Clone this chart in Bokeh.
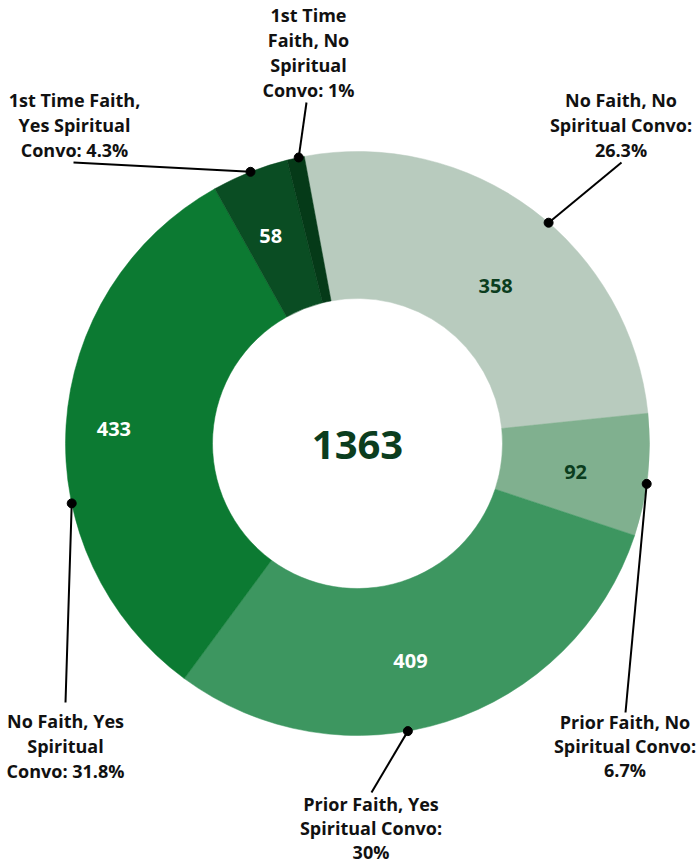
import math
from bokeh.plotting import figure
from bokeh.models import Range1d, ColumnDataSource
from bokeh.core.properties import value
from bokeh.embed import file_html
from bokeh.resources import INLINE

# ---------------- data ----------------
categories = [
    "No Faith, No Spiritual Convo",
    "Prior Faith, No Spiritual Convo",
    "Prior Faith, Yes Spiritual Convo",
    "No Faith, Yes Spiritual Convo",
    "1st Time Faith, Yes Spiritual Convo",
    "1st Time Faith, No Spiritual Convo",
]
counts = [358, 92, 409, 433, 58, 13]
pct_labels = ["26.3%", "6.7%", "30%", "31.8%", "4.3%", "1%"]
label_lines = [
    ["No Faith, No", "Spiritual Convo:", "26.3%"],
    ["Prior Faith, No", "Spiritual Convo:", "6.7%"],
    ["Prior Faith, Yes", "Spiritual Convo:", "30%"],
    ["No Faith, Yes", "Spiritual", "Convo: 31.8%"],
    ["1st Time Faith,", "Yes Spiritual", "Convo: 4.3%"],
    ["1st Time", "Faith, No", "Spiritual", "Convo: 1%"],
]
total = sum(counts)

# ---------------- style / layout ----------------
colors = ["#b8cbbe", "#80b08f", "#3d9660", "#0c7a32", "#0a4d23", "#053a18"]
num_colors = ["#0b3d1e", "#0b3d1e", "white", "white", "white", None]
W, H = 696, 863
PAGE_H = 863


def Y(img_y):
    return PAGE_H - img_y


CX, CY = 357, Y(443)
R_OUT, R_IN = 292, 145
START_DEG = 100.5

# per-slice layout tweaks (angle offset in degrees from slice middle, radius)
num_offsets = [(-4.6, 209), (-1.4, 220), (-4.0, 225), (0.5, 244), (1.2, 224), None]
dot_offsets = [-4.1, -1.74, -7.7, 15.4, -0.1, -0.6]
# leader line end points and label baseline positions in page pixels
line_ends = [(621, 162), (625, 712), (371, 792), (65, 702), (73, 162), (306, 102)]
label_pos = [(620.5, 107), (624.5, 729), (370.5, 811), (65, 728), (74, 107), (308, 22)]
label_spacing = [25, 24, 24, 25, 25, 25]
LABEL_SHIFT = 8     # renderer baseline correction (px)
NUM_SHIFT = 8
CENTER_SHIFT = 13

# ---------------- geometry from data ----------------
starts, ends, mids = [], [], []
a = START_DEG
for c in counts:
    sweep = c / total * 360.0
    starts.append(a)
    ends.append(a - sweep)
    mids.append(a - sweep / 2)
    a -= sweep

p = figure(width=W, height=H, output_backend="svg", toolbar_location=None,
           x_range=Range1d(0, W), y_range=Range1d(PAGE_H - H, PAGE_H),
           x_axis_type=None, y_axis_type=None, min_border=0)
p.outline_line_color = None
p.background_fill_color = "white"
p.border_fill_color = "white"

src = ColumnDataSource(dict(
    x=[CX] * len(counts), y=[CY] * len(counts),
    start=[math.radians(s) for s in starts],
    end=[math.radians(e) for e in ends],
    color=colors,
))
p.annular_wedge(x="x", y="y", inner_radius=R_IN, outer_radius=R_OUT,
                start_angle="start", end_angle="end", direction="clock",
                fill_color="color", line_color="color", line_width=0.5, source=src)

# center total
p.text(x=[CX], y=[CY - 14 + CENTER_SHIFT], text=[str(total)], text_font=value("Open Sans"),
       text_font_style="bold", text_font_size="40px", text_color="#0b3d1e",
       text_align="center", text_baseline="alphabetic")

# numbers inside slices
nx, ny, nt, nc = [], [], [], []
for i, c in enumerate(counts):
    if num_offsets[i] is None:
        continue
    off, r = num_offsets[i]
    ang = math.radians(mids[i] + off)
    nx.append(CX + r * math.cos(ang))
    ny.append(CY + r * math.sin(ang) - 7 + NUM_SHIFT)
    nt.append(str(c))
    nc.append(num_colors[i])
p.text(x=nx, y=ny, text=nt, text_color=nc, text_font=value("Open Sans"),
       text_font_style="bold", text_font_size="20px",
       text_align="center", text_baseline="alphabetic")

# leader lines and dots
dx, dy, lx, ly = [], [], [], []
for i in range(len(counts)):
    ang = math.radians(mids[i] + dot_offsets[i])
    dx.append(CX + R_OUT * math.cos(ang))
    dy.append(CY + R_OUT * math.sin(ang))
    lx.append(line_ends[i][0])
    ly.append(Y(line_ends[i][1]))
p.segment(x0=dx, y0=dy, x1=lx, y1=ly, line_color="black", line_width=2)
p.scatter(x=dx, y=dy, size=9, fill_color="black", line_color="black")

# outer labels
tx, ty, tt = [], [], []
for i, lines in enumerate(label_lines):
    x0, y0 = label_pos[i]
    for k, ln in enumerate(lines):
        tx.append(x0)
        ty.append(Y(y0 + k * label_spacing[i]) + LABEL_SHIFT)
        tt.append(ln)
p.text(x=tx, y=ty, text=tt, text_color="#111111", text_font=value("Open Sans"),
       text_font_style="bold", text_font_size="18px",
       text_align="center", text_baseline="alphabetic")

open("out.html", "w").write(file_html(p, INLINE))
